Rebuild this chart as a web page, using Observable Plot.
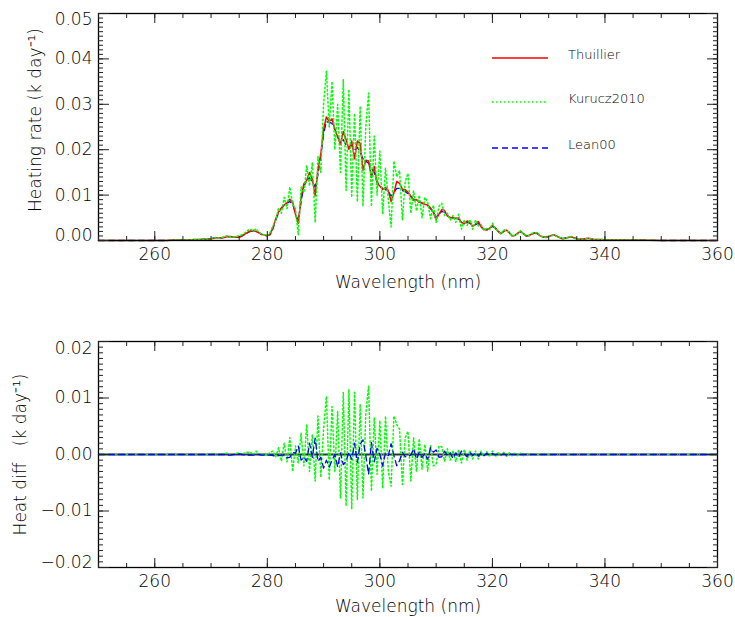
<!DOCTYPE html>
<html><head><meta charset="utf-8">
<script src="https://cdn.jsdelivr.net/npm/d3@7"></script>
<script src="https://cdn.jsdelivr.net/npm/@observablehq/plot@0.6"></script>
<style>
body{margin:0;background:#fff;}
#chart{width:735px;height:617px;position:relative;background:#fff;}
#chart svg{display:block;}
</style></head><body><div id="chart"></div>
<script>
// ---- data ----
const wavelength = [250,254,258,262,264,266,267,268,269,
270,270.5,271,271.5,272,272.5,273,273.5,274,274.5,
275,275.5,276,276.5,277,277.5,278,278.5,279,279.5,
280,280.5,281,281.5,282,282.5,283,283.5,284,284.5,
285,285.5,286,286.5,287,287.5,288,288.5,289,289.5,
290,290.5,291,291.5,292,292.5,293,293.5,294,294.5,
295,295.5,296,296.5,297,297.5,298,298.5,299,299.5,
300,300.5,301,301.5,302,302.5,303,303.5,304,304.5,
305,305.5,306,306.5,307,307.5,308,308.5,309,309.5,
310,310.5,311,311.5,312,312.5,313,313.5,314,314.5,
315,315.5,316,316.5,317,317.5,318,318.5,319,319.5,
320,320.5,321,321.5,322,322.5,323,323.5,324,324.5,
325,325.5,326,326.5,327,327.5,328,328.5,329,329.5,
330,330.5,331,331.5,332,332.5,333,333.5,334,334.5,
335,335.5,336,336.5,337,337.5,338,338.5,339,339.5,
340,342,345,350,355,360];

const thuillier = [0,0,0,0,0.0001,0.0001,0.0002,0.0002,0.0003,
.0004,.0005,.0006,.0006,.0006,.0007,.0009,.0009,.0008,.0007,
.0007,.0010,.0014,.0018,.0021,.0022,.0020,.0017,.0014,.0012,
.0011,.0014,.0028,.0048,.0063,.0072,.0078,.0083,.0091,.0085,
.0058,.0038,.0095,.0125,.0132,.0150,.0135,.0099,.0157,.0190,
.0245,.0272,.0262,.0268,.0245,.0228,.0212,.0240,.0222,.0201,
.0219,.0180,.0219,.0214,.0155,.0177,.0175,.0139,.0163,.0126,
.0120,.0112,.0117,.0110,.0086,.0105,.0130,.0126,.0113,.0112,
.0106,.0098,.0088,.0090,.0084,.0083,.0080,.0078,.0072,.0062,
.0046,.0058,.0068,.0066,.0054,.0050,.0050,.0049,.0050,.0040,
.0037,.0043,.0040,.0031,.0036,.0042,.0030,.0024,.0023,.0027,
.0033,.0028,.0020,.0015,.0020,.0023,.0017,.0010,.0011,.0016,
.0020,.0015,.0010,.0011,.0014,.0017,.0016,.0010,.0008,.0007,
.0009,.0011,.0012,.0009,.0006,.0004,.0005,.0007,.0008,.0006,
.0004,.0003,.0003,.0004,.0005,.0004,.0002,.0002,.0002,.0002,
.0001,.0001,.0001,0,0,0];

const kurucz2010 = [0,0,0,0,0.0001,0.0001,0.0002,0.0002,0.0003,
.0004,.0006,.0007,.0005,.0007,.0009,.0011,.0007,.0008,.0009,
.0010,.0013,.0017,.0022,.0025,.0021,.0026,.0018,.0014,.0012,
.0011,.0018,.0032,.0044,.0072,.0060,.0095,.0070,.0118,.0080,
.0070,.0012,.0118,.0105,.0165,.0120,.0172,.0040,.0185,.0150,
.0300,.0373,.0250,.0350,.0200,.0300,.0150,.0355,.0110,.0333,
.0095,.0280,.0085,.0296,.0075,.0250,.0325,.0075,.0230,.0100,
.0197,.0058,.0160,.0090,.0030,.0175,.0140,.0154,.0045,.0130,
.0148,.0060,.0110,.0065,.0100,.0050,.0095,.0085,.0048,.0078,
.0040,.0075,.0082,.0055,.0060,.0045,.0055,.0040,.0058,.0025,
.0045,.0033,.0046,.0025,.0045,.0032,.0035,.0022,.0027,.0024,
.0038,.0025,.0022,.0014,.0024,.0021,.0019,.0009,.0013,.0014,
.0022,.0013,.0012,.0010,.0016,.0016,.0018,.0009,.0009,.0006,
.0010,.0010,.0013,.0008,.0007,.0004,.0006,.0006,.0009,.0005,
.0004,.0003,.0003,.0004,.0005,.0004,.0002,.0002,.0002,.0002,
.0001,.0001,.0001,0,0,0];

const lean00 = [0,0,0,0,0.0001,0.0001,0.0002,0.0002,0.0003,
.0004,.0005,.0005,.0006,.0006,.0007,.0008,.0008,.0008,.0007,
.0008,.0010,.0013,.0017,.0020,.0021,.0020,.0017,.0013,.0011,
.0010,.0013,.0026,.0045,.0061,.0071,.0077,.0082,.0086,.0080,
.0060,.0042,.0085,.0120,.0130,.0138,.0130,.0118,.0145,.0185,
.0235,.0262,.0260,.0258,.0245,.0230,.0215,.0222,.0210,.0205,
.0210,.0200,.0205,.0195,.0180,.0175,.0170,.0160,.0150,.0130,
.0120,.0115,.0112,.0108,.0098,.0105,.0115,.0115,.0110,.0108,
.0103,.0097,.0090,.0088,.0085,.0082,.0080,.0077,.0070,.0062,
.0052,.0057,.0064,.0062,.0055,.0051,.0050,.0048,.0047,.0040,
.0038,.0040,.0038,.0033,.0035,.0038,.0030,.0025,.0024,.0027,
.0031,.0027,.0020,.0016,.0020,.0022,.0017,.0011,.0012,.0016,
.0019,.0015,.0010,.0011,.0014,.0016,.0015,.0010,.0008,.0007,
.0009,.0011,.0012,.0009,.0006,.0004,.0006,.0007,.0008,.0006,
.0004,.0003,.0003,.0004,.0005,.0004,.0002,.0002,.0002,.0002,
.0001,.0001,.0001,0,0,0];

// heat differences relative to Thuillier (bottom panel)
const diffKurucz = [0,0,0,0,0,0,0,0,0,
0,.0001,.0001,-.0001,.0001,.0002,.0002,-.0002,0,.0002,
.0003,-.0001,.0003,.0004,.0004,-.0001,.0006,.0001,-.0001,.0002,
-.0002,.0004,.0006,-.0004,.0012,-.0012,.0020,-.0013,.0030,-.0030,
.0015,-.0015,.0038,-.0020,.0053,-.0030,.0035,-.0047,.0068,-.0040,
.0045,.0103,-.0045,.0085,-.0030,.0076,-.0077,.0110,-.0091,.0115,
-.0097,.0110,-.0080,.0089,-.0077,.0072,.0121,-.0065,.0065,-.0035,
.0060,-.0060,.0068,-.0030,-.0056,.0068,.0053,.0045,-.0053,.0030,
.0041,-.0047,.0030,-.0030,.0028,-.0026,.0018,-.0030,.0016,-.0020,
-.0017,.0015,.0014,-.0012,.0010,-.0010,.0007,-.0013,.0009,-.0015,
.0009,-.0010,.0007,-.0008,.0006,-.0008,.0006,-.0003,.0005,-.0004,
.0006,-.0004,.0003,-.0002,.0004,-.0003,.0003,-.0002,.0002,-.0002,
.0002,-.0002,.0002,-.0001,.0002,-.0001,.0001,-.0001,.0001,-.0001,
.0001,-.0001,.0001,0,0,0,0,0,0,0,
0,0,0,0,0,0,0,0,0,0,
0,0,0,0,0,0];

const diffLean = [0,0,0,0,0,0,0,0,0,
0,0,0,0,0,0,-.0001,-.0001,0,0,
.0001,0,-.0001,-.0001,-.0001,-.0001,0,0,-.0001,-.0001,
-.0001,-.0001,-.0002,-.0003,-.0002,-.0001,-.0001,-.0006,-.0005,.0004,
.0002,.0015,-.0010,-.0005,-.0012,.0020,-.0005,.0029,-.0012,-.0005,
-.0024,-.0010,-.0022,-.0010,.0000,-.0022,.0003,-.0018,-.0012,.0004,
-.0009,.0020,-.0014,.0018,.0026,-.0002,-.0035,.0021,-.0013,.0011,
.0000,-.0020,.0003,-.0002,.0019,-.0002,-.0020,-.0011,.0004,-.0004,
-.0003,-.0001,.0010,-.0008,.0004,-.0005,.0002,-.0009,.0012,.0004,
.0008,-.0005,-.0004,.0006,-.0002,.0003,-.0007,.0003,-.0005,.0006,
.0002,-.0004,.0004,-.0002,.0003,-.0003,.0003,-.0002,.0002,-.0001,
.0002,-.0001,.0001,-.0001,.0001,-.0001,.0001,0,0,0,
0,0,0,0,0,0,0,0,0,0,
0,0,0,0,0,0,0,0,0,0,
0,0,0,0,0,0,0,0,0,0,
0,0,0,0,0,0];

const xTickValues = [260, 280, 300, 320, 340, 360];
const yTicksTop = [0, 0.01, 0.02, 0.03, 0.04, 0.05];
const yTicksBottom = [-0.02, -0.01, 0, 0.01, 0.02];
const seriesNames = ["Thuillier", "Kurucz2010", "Lean00"];
const xTitle = "Wavelength (nm)";
const yTitleTop = "Heating rate (k day\u207B\u00B9)";
const yTitleBottom = "Heat diff   (k day\u207B\u00B9)";

// ---- checks ----
for (const [n, a] of Object.entries({thuillier, kurucz2010, lean00, diffKurucz, diffLean})) {
  if (a.length !== wavelength.length) throw new Error(n + " length " + a.length + " vs " + wavelength.length);
}

const rows = wavelength.map((w, i) => ({w, T: thuillier[i], K: kurucz2010[i], L: lean00[i], dK: diffKurucz[i], dL: diffLean[i]}));

const FONT = "DejaVu Sans, Verdana, sans-serif";
const fmt = d3.format(".2f");
const blank = () => "";
const xMinor = d3.range(250, 361, 5);
const colors = {T: "#ff0000", K: "#00ff00", L: "#0000ff"};
const dash = {T: null, K: "1.5,2.5", L: "6,4"};

function panel({height, marginTop, marginBottom, yDomain, yMajor, yMinor, marks, yTitle, yTitleDx, yTitleDy, xTitleDy, lowDy, highDy}) {
  const tk = {label: null, tickFormat: blank, stroke: "#222"};
  const lbl = {label: null, tickSize: 0, fontSize: 17, fontWeight: 200};
  return Plot.plot({
    width: 735, height, marginLeft: 98, marginRight: 18, marginTop, marginBottom,
    style: {fontFamily: FONT, background: "white", overflow: "visible", color: "black"},
    x: {domain: [250, 360]},
    y: {domain: yDomain},
    marks: [
      ...marks,
      Plot.frame({stroke: "black", strokeWidth: 1.3}),
      Plot.axisX(xMinor, {...tk, anchor: "bottom", tickSize: -4}),
      Plot.axisX(xMinor, {...tk, anchor: "top", tickSize: -4}),
      Plot.axisX(xTickValues, {...tk, anchor: "bottom", tickSize: -9}),
      Plot.axisX(xTickValues, {...tk, anchor: "top", tickSize: -9}),
      Plot.axisY(yMinor, {...tk, anchor: "left", tickSize: -5}),
      Plot.axisY(yMinor, {...tk, anchor: "right", tickSize: -5}),
      Plot.axisY(yMajor, {...tk, anchor: "left", tickSize: -11}),
      Plot.axisY(yMajor, {...tk, anchor: "right", tickSize: -11}),
      Plot.axisX(xTickValues, {...lbl, anchor: "bottom", tickPadding: 7}),
      Plot.axisY(yMajor.slice(1, -1), {...lbl, anchor: "left", tickPadding: 6, tickFormat: fmt}),
      Plot.axisY([yMajor[0]], {...lbl, anchor: "left", tickPadding: 6, tickFormat: fmt, dy: lowDy}),
      Plot.axisY([yMajor[yMajor.length - 1]], {...lbl, anchor: "left", tickPadding: 6, tickFormat: fmt, dy: highDy}),
      Plot.text([xTitle], {text: d => d, frameAnchor: "bottom", textAnchor: "middle", lineAnchor: "middle", dy: xTitleDy, fontSize: 17, fontWeight: 200}),
      Plot.text([yTitle], {text: d => d, frameAnchor: "left", textAnchor: "middle", lineAnchor: "middle", rotate: -90, dx: yTitleDx, dy: yTitleDy, fontSize: 17, fontWeight: 200})
    ]
  });
}

const topPlot = panel({
  height: 300, marginTop: 13, marginBottom: 60,
  yDomain: [0, 0.05], yMajor: yTicksTop,
  yMinor: d3.range(0, 51).map(i => i / 1000),
  yTitle: yTitleTop, yTitleDx: -63, yTitleDy: -7, xTitleDy: 42, lowDy: -5, highDy: 6,
  marks: [
    Plot.line(rows, {x: "w", y: "L", stroke: colors.L, strokeWidth: 1.3, strokeDasharray: dash.L}),
    Plot.line(rows, {x: "w", y: "T", stroke: colors.T, strokeWidth: 1.5}),
    Plot.line(rows, {x: "w", y: "K", stroke: colors.K, strokeWidth: 1.5, strokeDasharray: dash.K})
  ]
});

const bottomPlot = panel({
  height: 317, marginTop: 41, marginBottom: 50,
  yDomain: [-0.02, 0.02], yMajor: yTicksBottom,
  yMinor: d3.range(-20, 21).map(i => i / 1000),
  yTitle: yTitleBottom, yTitleDx: -78, yTitleDy: 0, xTitleDy: 39, lowDy: -5, highDy: 7,
  marks: [
    Plot.ruleY([0], {stroke: "#333", strokeWidth: 2}),
    Plot.line(rows, {x: "w", y: "dK", stroke: colors.K, strokeWidth: 1.5, strokeDasharray: dash.K}),
    Plot.line(rows, {x: "w", y: "dL", stroke: colors.L, strokeWidth: 1.3, strokeDasharray: dash.L})
  ]
});

// legend inside the top panel
const legendItems = [
  {name: seriesNames[0], key: "T", y: 58},
  {name: seriesNames[1], key: "K", y: 102},
  {name: seriesNames[2], key: "L", y: 148}
];
const lg = d3.select(topPlot).append("g").attr("font-family", FONT).attr("font-size", 13)
  .attr("font-weight", 200).attr("text-anchor", "start");
for (const it of legendItems) {
  lg.append("line").attr("x1", 492).attr("x2", 548).attr("y1", it.y).attr("y2", it.y)
    .attr("stroke", colors[it.key]).attr("stroke-width", 1.5)
    .attr("stroke-dasharray", dash[it.key]);
  lg.append("text").attr("x", 568).attr("y", it.y - 3).attr("dominant-baseline", "middle")
    .attr("text-anchor", "start").attr("fill", "black").text(it.name);
}

const chart = document.getElementById("chart");
chart.appendChild(topPlot);
chart.appendChild(bottomPlot);
</script>
</body></html>
